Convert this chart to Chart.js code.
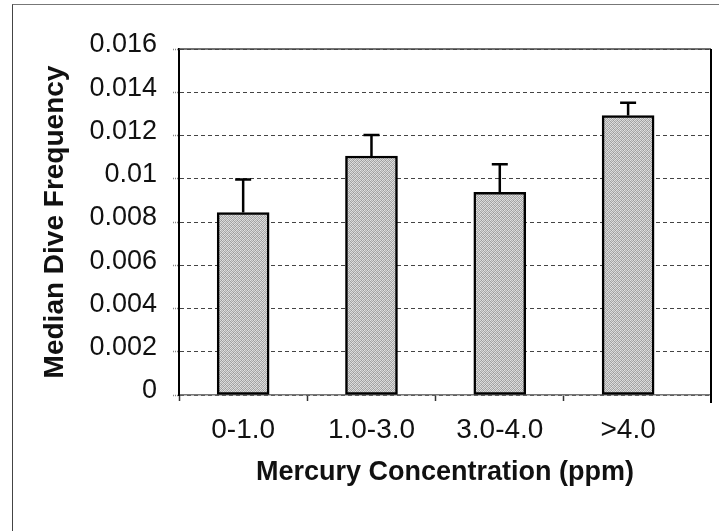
<!DOCTYPE html>
<html>
<head>
<meta charset="utf-8">
<script src="https://cdn.jsdelivr.net/npm/chart.js@4/dist/chart.umd.min.js"></script>
<style>
  html, body { margin: 0; padding: 0; background: #fff; }
  #wrap { position: relative; width: 719px; height: 531px; overflow: hidden; }
  #frame { position: absolute; left: 12px; top: 4px; width: 720px; height: 540px;
           border-left: 1.5px solid #444; border-top: 1px solid #777; pointer-events: none; }
  canvas { position: absolute; left: 0; top: 0; }
</style>
</head>
<body>
<div id="wrap">
  <canvas id="c" width="719" height="531"></canvas>
  <div id="frame"></div>
</div>
<script>
// ---- data ----
const categories = ["0-1.0", "1.0-3.0", "3.0-4.0", ">4.0"];
const medianValues = [0.00844, 0.01105, 0.00937, 0.01292];
const errorUpper = [0.00153, 0.00097, 0.00130, 0.00060];
const yTicks = [0, 0.002, 0.004, 0.006, 0.008, 0.01, 0.012, 0.014, 0.016];
const xTitle = "Mercury Concentration (ppm)";
const yTitle = "Median Dive Frequency";

const FONT = "'Liberation Sans', Arial, Helvetica, sans-serif";

// stippled grey fill pattern
function makePattern() {
  const p = document.createElement('canvas');
  p.width = 4; p.height = 4;
  const g = p.getContext('2d');
  const cols = [
    ['#d8d8d8', '#9a9a9a', '#e0e0e0', '#b0b0b0'],
    ['#a6a6a6', '#dcdcdc', '#a0a0a0', '#d4d4d4'],
    ['#e2e2e2', '#b4b4b4', '#d6d6d6', '#9c9c9c'],
    ['#a8a8a8', '#d0d0d0', '#acacac', '#e0e0e0']
  ];
  for (let y = 0; y < 4; y++) for (let x = 0; x < 4; x++) {
    g.fillStyle = cols[y][x]; g.fillRect(x, y, 1, 1);
  }
  return g.createPattern(p, 'repeat');
}

const errorBarPlugin = {
  id: 'errorBars',
  afterDatasetsDraw(chart) {
    const meta = chart.getDatasetMeta(0);
    const yScale = chart.scales.y;
    const ctx = chart.ctx;
    ctx.save();
    ctx.strokeStyle = '#000';
    ctx.lineWidth = 2.5;
    meta.data.forEach((bar, i) => {
      const yTop = yScale.getPixelForValue(medianValues[i] + errorUpper[i]);
      const x = bar.x;
      ctx.beginPath();
      ctx.moveTo(x, bar.y);
      ctx.lineTo(x, yTop);
      ctx.moveTo(x - 8, yTop);
      ctx.lineTo(x + 8, yTop);
      ctx.stroke();
    });
    ctx.restore();
  }
};

const plotFramePlugin = {
  id: 'plotFrame',
  afterDraw(chart) {
    const a = chart.chartArea;
    const ctx = chart.ctx;
    ctx.save();
    ctx.strokeStyle = '#444';
    ctx.lineWidth = 1.5;
    ctx.beginPath();
    ctx.moveTo(a.left, a.top);
    ctx.lineTo(a.right, a.top);
    ctx.stroke();
    ctx.strokeStyle = '#000';
    ctx.lineWidth = 2;
    ctx.beginPath();
    ctx.moveTo(a.right, a.top);
    ctx.lineTo(a.right, a.bottom + 8);
    ctx.stroke();
    ctx.restore();
  }
};

const ctx = document.getElementById('c').getContext('2d');
new Chart(ctx, {
  type: 'bar',
  data: {
    datasets: [{
      data: medianValues.map((v, i) => ({ x: i, y: v })),
      backgroundColor: makePattern(),
      borderColor: '#000',
      borderWidth: 2.5,
      borderSkipped: false,
      barThickness: 52,
      xAxisID: 'x',
      yAxisID: 'y'
    }]
  },
  options: {
    responsive: false,
    animation: false,
    devicePixelRatio: 1,
    layout: { padding: { left: 38, top: 49, right: 8, bottom: 42 } },
    plugins: { legend: { display: false }, tooltip: { enabled: false } },
    scales: {
      x: {
        type: 'linear',
        position: 'bottom',
        offset: false,
        min: -0.5,
        max: 3.646,
        afterBuildTicks: (s) => { s.ticks = categories.map((c, i) => ({ value: i - 0.5 })); },
        afterFit: (s) => { s.height = 6; },
        ticks: { display: false },
        grid: { offset: false, drawOnChartArea: false, drawTicks: true, tickLength: 6, tickColor: '#333', tickWidth: 1.5 },
        border: { display: true, color: '#777', width: 1.5 }
      },
      x2: {
        type: 'linear',
        position: 'bottom',
        offset: false,
        min: -0.5,
        max: 3.646,
        afterBuildTicks: (s) => { s.ticks = categories.map((c, i) => ({ value: i })); },
        afterFit: (s) => { s.height = 88; },
        ticks: {
          autoSkip: false,
          maxRotation: 0,
          padding: 12,
          color: '#111',
          font: { family: FONT, size: 28 },
          callback: (v) => categories[v]
        },
        grid: { display: false, drawTicks: false, offset: false },
        border: { display: false },
        title: {
          display: true,
          text: xTitle,
          color: '#111',
          padding: 0,
          font: { family: FONT, size: 27, weight: 'bold' }
        }
      },
      y: {
        type: 'linear',
        position: 'left',
        min: 0,
        max: 0.016,
        afterBuildTicks: (s) => { s.ticks = yTicks.map(v => ({ value: v })); },
        afterFit: (s) => { s.width = 141; },
        ticks: {
          padding: 16,
          labelOffset: -4,
          color: '#111',
          font: { family: FONT, size: 27 },
          callback: (v) => String(+v.toFixed(3))
        },
        grid: {
          color: '#444',
          lineWidth: 1,
          drawTicks: true,
          tickLength: 6,
          tickColor: '#888',
          tickWidth: 1.5,
          tickBorderDash: [1, 1]
        },
        border: { display: true, color: '#000', width: 2, dash: [4, 3] },
        title: {
          display: true,
          text: yTitle,
          color: '#111',
          padding: 0,
          font: { family: FONT, size: 28, weight: 'bold' }
        }
      }
    }
  },
  plugins: [errorBarPlugin, plotFramePlugin]
});
</script>
</body>
</html>
